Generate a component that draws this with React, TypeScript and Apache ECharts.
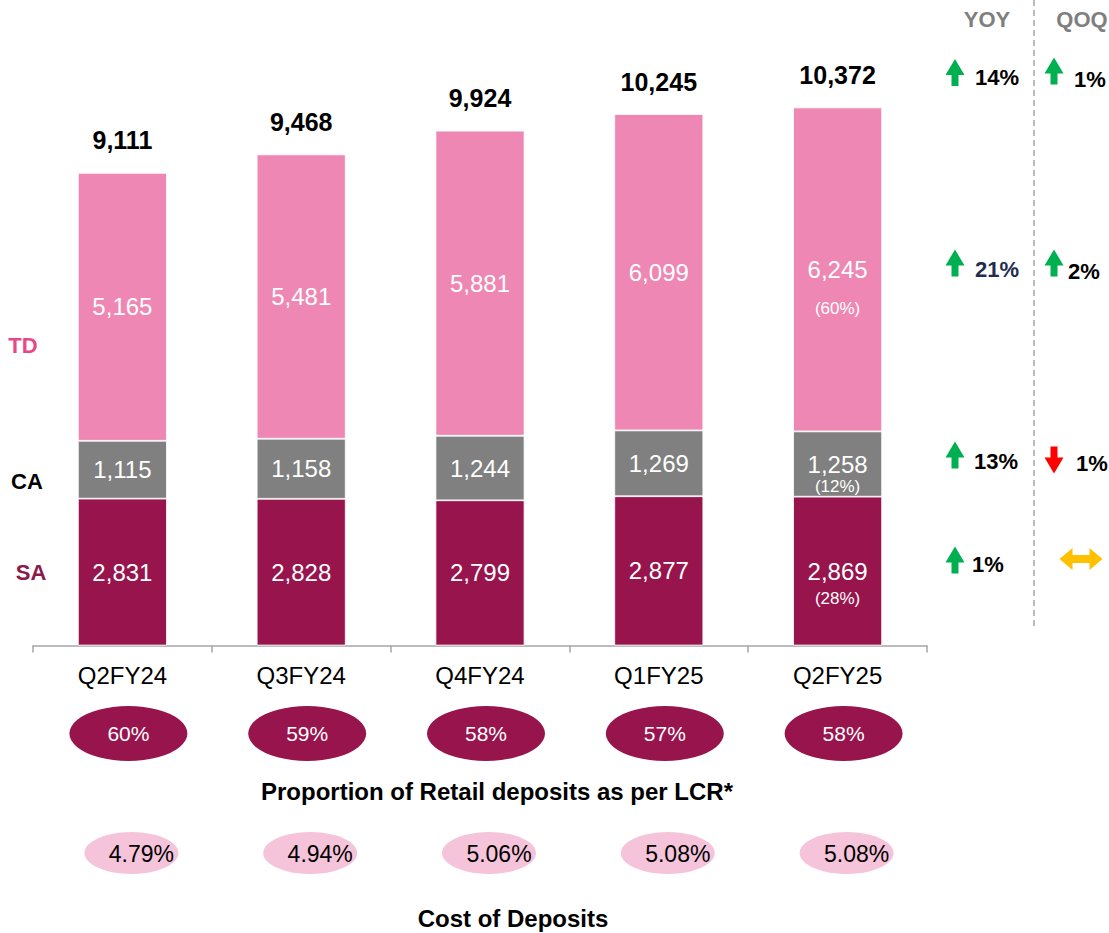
import React, { useEffect, useRef } from 'react';
import * as echarts from 'echarts';

const quarters = ['Q2FY24', 'Q3FY24', 'Q4FY24', 'Q1FY25', 'Q2FY25'];
const saValues = [2831, 2828, 2799, 2877, 2869];
const caValues = [1115, 1158, 1244, 1269, 1258];
const tdValues = [5165, 5481, 5881, 6099, 6245];
const totalValues = [9111, 9468, 9924, 10245, 10372];
const saShare: (string | null)[] = [null, null, null, null, '28%'];
const caShare: (string | null)[] = [null, null, null, null, '12%'];
const tdShare: (string | null)[] = [null, null, null, null, '60%'];
const lcrShare = [60, 59, 58, 57, 58];
const costOfDeposits = [4.79, 4.94, 5.06, 5.08, 5.08];
const growthRows = ['Total', 'TD', 'CA', 'SA'];
const yoyGrowth = ['14%', '21%', '13%', '1%'];
const yoyDirection = ['up', 'up', 'up', 'up'];
const qoqGrowth = ['1%', '2%', '1%', ''];
const qoqDirection = ['up', 'up', 'down', 'flat'];

const FONT = '"Liberation Sans", Arial, Helvetica, sans-serif';
const fmt = (n: number) => n.toLocaleString('en-US');

function segSeries(name: string, values: number[], shares: (string | null)[], color: string, lh: [number, number]) {
  return {
    name,
    type: 'bar',
    stack: 'dep',
    barWidth: 89,
    barGap: '-100%',
    xAxisIndex: 0,
    yAxisIndex: 0,
    itemStyle: { color, borderColor: '#ffffff', borderWidth: 0.8 },
    label: {
      show: true,
      position: 'inside',
      color: '#fff',
      fontFamily: FONT,
      fontSize: 24,
      formatter: (p: any) =>
        shares[p.dataIndex]
          ? `{v|${fmt(p.value)}}\n{p|(${shares[p.dataIndex]})}`
          : `{v|${fmt(p.value)}}`,
      rich: {
        v: { fontSize: 24, color: '#fff', lineHeight: lh[0], fontFamily: FONT },
        p: { fontSize: 17, color: '#fff', lineHeight: lh[1], fontFamily: FONT },
      },
    },
    data: values.map((v, i) => (shares[i] ? { value: v, label: { offset: [0, lh[1] / 2] } } : v)),
  };
}

function upArrow(cx: number, cy: number, color: string, flip = false) {
  const s = flip ? -1 : 1;
  const pts = [
    [0, -13.5], [9.5, 2.5], [3.5, 2.5], [3.5, 13.5], [-3.5, 13.5], [-3.5, 2.5], [-9.5, 2.5],
  ].map(([x, y]) => [cx + x, cy + s * y]);
  return { type: 'polygon', shape: { points: pts }, style: { fill: color } };
}

function doubleArrow(cx: number, cy: number, color: string) {
  const pts = [
    [-21.5, 0], [-8.5, -11], [-8.5, -4], [8.5, -4], [8.5, -11], [21.5, 0], [8.5, 11], [8.5, 4], [-8.5, 4], [-8.5, 11],
  ].map(([x, y]) => [cx + x, cy + y]);
  return { type: 'polygon', shape: { points: pts }, style: { fill: color } };
}

function txt(text: string, x: number, y: number, size: number, color: string, bold = true) {
  return {
    type: 'text',
    x,
    y,
    style: {
      text,
      fill: color,
      fontSize: size,
      fontWeight: bold ? 'bold' : 'normal',
      fontFamily: FONT,
      align: 'center',
      verticalAlign: 'middle',
      textAlign: 'center',
      textVerticalAlign: 'middle',
    },
  };
}

export default function App() {
  const ref = useRef<HTMLDivElement>(null);
  useEffect(() => {
    if (!ref.current) return;
    const chart = echarts.init(ref.current, undefined, { renderer: 'svg' });

    const rowY = [75, 267, 459, 562];
    const yoyArrowY = [72.5, 263, 455, 560];
    const qoqArrowY = [71, 263, 460, 559];
    const yoyTextX = [997, 997, 996, 988];
    const qoqTextX = [1090, 1084, 1092, 1090];
    const yoyColors = ['#000', '#1F2D4F', '#000', '#000'];
    const graphics: any[] = [
      txt('TD', 23, 345, 22, '#E8488A'),
      txt('CA', 27, 481, 22, '#000'),
      txt('SA', 31, 572, 22, '#8B1A4A'),
      txt('YOY', 987, 19, 22, '#7F7F7F'),
      txt('QOQ', 1082, 19, 22, '#7F7F7F'),
      {
        type: 'line',
        shape: { x1: 1034, y1: 0, x2: 1034, y2: 628 },
        style: { stroke: '#A6A6A6', lineWidth: 1.5, lineDash: [6, 4] },
      },
      txt('Proportion of Retail deposits as per LCR*', 497, 791, 24, '#000'),
      txt('Cost of Deposits', 513, 918, 24, '#000'),
    ];
    growthRows.forEach((_, i) => {
      graphics.push(upArrow(955, yoyArrowY[i], '#00B050', yoyDirection[i] === 'down'));
      graphics.push(txt(yoyGrowth[i], yoyTextX[i], rowY[i] + 2, 22, yoyColors[i]));
      if (qoqDirection[i] === 'flat') {
        graphics.push(doubleArrow(1081, qoqArrowY[i], '#FFC000'));
      } else {
        graphics.push(
          upArrow(1054, qoqArrowY[i], qoqDirection[i] === 'down' ? '#FF0000' : '#00B050', qoqDirection[i] === 'down')
        );
      }
      if (qoqGrowth[i]) graphics.push(txt(qoqGrowth[i], qoqTextX[i], rowY[i] + 4, 22, '#000'));
    });

    const option: any = {
      animation: false,
      backgroundColor: '#ffffff',
      textStyle: { fontFamily: FONT },
      grid: [
        { left: 33, top: 23, width: 894, height: 622.5 },
        { left: 33, top: 706, width: 894, height: 55 },
        { left: 33, top: 832, width: 894, height: 42 },
      ],
      xAxis: [
        {
          type: 'category',
          gridIndex: 0,
          data: quarters,
          axisLine: { lineStyle: { color: '#A6A6A6', width: 1.5 } },
          axisTick: { show: true, length: 7, lineStyle: { color: '#A6A6A6', width: 1.5 } },
          axisLabel: { color: '#000', fontSize: 24, margin: 18, fontFamily: FONT },
        },
        { type: 'category', gridIndex: 1, data: quarters, show: false },
        { type: 'category', gridIndex: 2, data: quarters, show: false },
      ],
      yAxis: [
        { type: 'value', gridIndex: 0, min: 0, max: 12000, show: false },
        { type: 'category', gridIndex: 1, data: ['LCR'], show: false },
        { type: 'category', gridIndex: 2, data: ['Cost'], show: false },
      ],
      series: [
        segSeries('SA', saValues, saShare, '#97144D', [28, 26]),
        segSeries('CA', caValues, caShare, '#808080', [26, 18]),
        segSeries('TD', tdValues, tdShare, '#EE87B4', [28, 50]),
        {
          name: 'Total',
          type: 'bar',
          barWidth: 89,
          barGap: '-100%',
          xAxisIndex: 0,
          yAxisIndex: 0,
          silent: true,
          itemStyle: { color: 'transparent' },
          label: {
            show: true,
            position: 'top',
            distance: 20,
            color: '#000',
            fontSize: 25,
            fontWeight: 'bold',
            fontFamily: FONT,
            formatter: (p: any) => fmt(p.value),
          },
          data: totalValues,
        },
        {
          name: 'LCR',
          type: 'scatter',
          xAxisIndex: 1,
          yAxisIndex: 1,
          symbol: 'circle',
          symbolSize: [118, 55],
          symbolOffset: [6, 0],
          itemStyle: { color: '#97144D', opacity: 1 },
          label: {
            show: true,
            position: 'inside',
            color: '#fff',
            fontSize: 21,
            fontFamily: FONT,
            formatter: (p: any) => `${p.data[2]}%`,
          },
          data: lcrShare.map((v, i) => [i, 0, v]),
        },
        {
          name: 'Cost of Deposits',
          type: 'scatter',
          xAxisIndex: 2,
          yAxisIndex: 2,
          symbol: 'circle',
          symbolSize: [94, 42],
          symbolOffset: [9, 0],
          itemStyle: { color: '#F6C4DA', opacity: 1 },
          label: {
            show: true,
            position: 'inside',
            offset: [10, 1],
            color: '#000',
            fontSize: 23,
            fontFamily: FONT,
            formatter: (p: any) => `${p.data[2].toFixed(2)}%`,
          },
          data: costOfDeposits.map((v, i) => [i, 0, v]),
        },
      ],
      graphic: graphics,
    };
    chart.setOption(option);
    return () => chart.dispose();
  }, []);

  return (
    <div
      ref={ref}
      style={{ position: 'fixed', left: 0, top: 0, width: 1109, height: 933, background: '#fff' }}
    />
  );
}
